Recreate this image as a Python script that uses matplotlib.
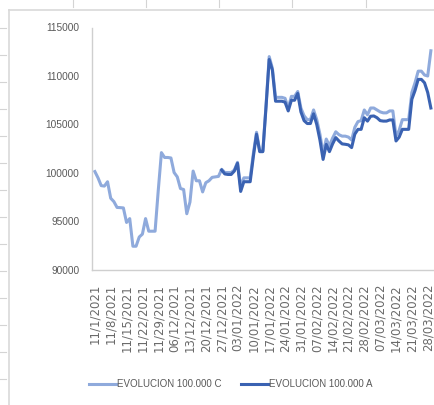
import numpy as np
import matplotlib
matplotlib.use('Agg')
import matplotlib.pyplot as plt
from matplotlib.lines import Line2D

W, H = 434, 405

# weekly labels, one every 5 business days
tick_labels = [
	'11/1/2021', '11/8/2021', '11/15/2021', '11/22/2021', '11/29/2021',
	'06/12/2021', '13/12/2021', '20/12/2021', '27/12/2021', '03/01/2022',
	'10/01/2022', '17/01/2022', '24/01/2022', '31/01/2022', '07/02/2022',
	'14/02/2022', '21/02/2022', '28/02/2022', '07/03/2022', '14/03/2022',
	'21/03/2022', '28/03/2022',
]

evolucion_c = [
	100150, 99500, 98700, 98650, 99100, 97400, 97050, 96450, 96430, 96400,
	94900, 95300, 92450, 92450, 93400, 93700, 95300, 94000, 94000, 94000,
	98200, 102100, 101600, 101600, 101550, 100050, 99600, 98400, 98300, 95800,
	97000, 100200, 99200, 99200, 98050, 99000, 99200, 99550, 99600, 99650,
	100380, 100050, 100050, 100050, 100300, 101100, 98600, 99500, 99500, 99500,
	102000, 104200, 102300, 102300, 107000, 112000, 110800, 107800, 107800, 107800,
	107700, 106700, 107900, 107900, 108400, 106700, 105900, 105500, 105500, 106500,
	105500, 104000, 102000, 103500, 102800, 103600, 104250, 103950, 103800, 103800,
	103700, 103400, 104700, 105300, 105400, 106500, 106000, 106700, 106700, 106500,
	106300, 106200, 106200, 106400, 106400, 103800, 104400, 105500, 105500, 105500,
	108300, 109300, 110500, 110500, 110100, 110000, 112600,
]

evolucion_a = [None] * 40 + [
	100300, 99900, 99850, 99850, 100200, 101000, 98100, 99100, 99100, 99100,
	101700, 104000, 102200, 102200, 106800, 111700, 110600, 107400, 107400, 107400,
	107300, 106400, 107500, 107500, 108200, 106300, 105400, 105100, 105100, 106100,
	105000, 103400, 101400, 102950, 102200, 103000, 103650, 103300, 103000, 102960,
	102900, 102620, 104000, 104500, 104500, 105700, 105350, 105850, 105880, 105700,
	105400, 105350, 105350, 105470, 105470, 103300, 103700, 104500, 104500, 104500,
	107600, 108500, 109650, 109650, 109300, 108300, 106700,
]

y_ticks = [90000, 95000, 100000, 105000, 110000, 115000]


def fx(px):
	return px / W


def fy(py):
	return 1 - py / H


def sheet_decor(fig):
	# bits of the spreadsheet around the chart
	grid = '#D4D4D4'
	for x in [73, 146, 219, 292, 366]:
		fig.add_artist(Line2D([fx(x), fx(x)], [fy(0), fy(7)], color=grid, lw=0.8))
	for y in range(28, 400, 27):
		fig.add_artist(Line2D([fx(0), fx(6)], [fy(y), fy(y)], color=grid, lw=0.8))
	# chart area border
	fig.add_artist(Line2D([fx(9), fx(W)], [fy(10), fy(10)], color='#D9D9D9', lw=1.2))
	fig.add_artist(Line2D([fx(9), fx(9)], [fy(10), fy(H)], color='#D9D9D9', lw=1.2))


def main():
	fig = plt.figure(figsize=(W / 100, H / 100), dpi=100)
	sheet_decor(fig)

	step = 3.17
	left = -0.9
	right = 112
	ax = fig.add_axes([fx(92), fy(270), (right - left) * step / W, (270 - 27.5) / H])

	x_c = np.arange(len(evolucion_c))
	x_a = np.arange(len(evolucion_a))
	a_vals = np.array([np.nan if v is None else v for v in evolucion_a], dtype=float)

	ax.plot(x_c, evolucion_c, color='#8FAADC', lw=2.2, label='EVOLUCION 100.000 C',
			solid_joinstyle='round')
	ax.plot(x_a, a_vals, color='#3A62B2', lw=2.2, label='EVOLUCION 100.000 A',
			solid_joinstyle='round')

	ax.set_xlim(left, right)
	ax.set_ylim(90000, 115000)
	ax.set_yticks(y_ticks)
	ax.set_yticklabels([str(v) for v in y_ticks], fontsize=7.3, color='#595959',
					   family='Liberation Sans')
	ax.set_xticks(np.arange(0, 5 * len(tick_labels), 5))
	ax.set_xticklabels(tick_labels, rotation=90, fontsize=8.5, color='#6A6A6A',
					   family='DejaVu Sans', va='top')
	ax.tick_params(axis='both', length=0)
	ax.tick_params(axis='y', pad=9)
	ax.tick_params(axis='x', pad=10)

	for s in ['top', 'right']:
		ax.spines[s].set_visible(False)
	for s in ['left', 'bottom']:
		ax.spines[s].set_color('#CFCFCF')
		ax.spines[s].set_linewidth(1.0)

	fig.legend(loc='center', bbox_to_anchor=(fx(231), fy(384)), ncol=2, frameon=False,
			   prop={'family': 'Liberation Sans', 'size': 7.0}, handlelength=2.8,
			   handletextpad=0.1, columnspacing=2.0, labelcolor='#595959')

	fig.savefig('out.png', dpi=100)


if __name__ == '__main__':
	main()
